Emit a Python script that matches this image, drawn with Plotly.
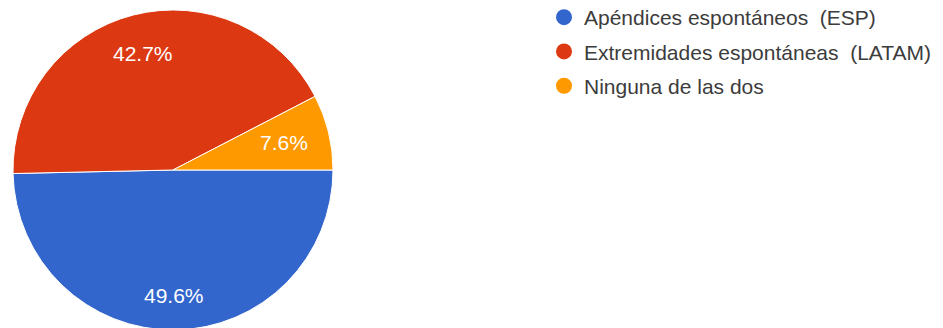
import math
import plotly.graph_objects as go

# Survey answers and their shares (%)
categories = [
    "Apéndices espontáneos\u00a0 (ESP)",
    "Extremidades espontáneas\u00a0 (LATAM)",
    "Ninguna de las dos",
]
shares = [49.6, 42.7, 7.6]
colors = ["#3366CC", "#DC3912", "#FF9900"]

W, H = 943, 334
FONT = "Arial, Liberation Sans, sans-serif"
LABEL_SIZE = 21
START_DEG = 90  # first slice starts at 3 o'clock, going clockwise

# pie placement (pixels): centre and radius
cx, cy, r = 173, 170, 160
dom_x = [(cx - r) / W, (cx + r) / W]
dom_y = [(H - (cy + r)) / H, (H - (cy - r)) / H]

fig = go.Figure()

fig.add_trace(go.Pie(
    labels=categories, values=shares, sort=False, direction="clockwise",
    rotation=START_DEG,
    marker=dict(colors=colors, line=dict(color="white", width=1)),
    textinfo="none", showlegend=False, hoverinfo="label+value",
    domain=dict(x=dom_x, y=dom_y),
))

# Percentage labels: each sits on its slice bisector, pushed outwards until
# the outer corner of its text box reaches 7/8 of the radius.
ADV = {".": 0.278, "%": 0.889}  # Arial advance widths (em); digits 0.556


def text_width(s):
    return sum(ADV.get(ch, 0.556) for ch in s) * LABEL_SIZE


total = sum(shares)
cum = 0.0
reach = 0.875 * r
for v in shares:
    theta = math.radians(START_DEG + 360 * (cum + v / 2) / total)
    cum += v
    label = f"{v:.1f}%"
    a, b = text_width(label) / 2, LABEL_SIZE / 2
    ux, uy = math.sin(theta), -math.cos(theta)
    k = a * abs(ux) + b * abs(uy)
    d = -k + math.sqrt(k * k - (a * a + b * b) + reach * reach)
    px, py = cx + d * ux, cy + d * uy
    fig.add_annotation(
        x=px / W, y=1 - py / H, xref="paper", yref="paper",
        text=label, showarrow=False, xanchor="center", yanchor="middle",
        font=dict(family=FONT, size=LABEL_SIZE, color="white"),
    )

# legend entries with round markers
for name, col in zip(categories, colors):
    fig.add_trace(go.Scatter(
        x=[None], y=[None], mode="markers", name=name, legendgroup=name,
        marker=dict(symbol="circle", size=16, color=col),
    ))

fig.update_layout(
    width=W, height=H,
    margin=dict(l=0, r=0, t=0, b=0, autoexpand=False),
    paper_bgcolor="white", plot_bgcolor="white",
    xaxis=dict(visible=False), yaxis=dict(visible=False),
    legend=dict(
        x=(565 - 21) / W, xanchor="left", y=1 + 3 / H, yanchor="top",
        font=dict(family=FONT, size=21, color="#3c3c3c"),
        tracegroupgap=4, itemsizing="trace",
        bgcolor="rgba(0,0,0,0)",
    ),
)

fig.write_html(
    "out.html",
    post_script=(
        "document.body.style.margin='0';"
        "document.body.style.overflow='hidden';"
        "document.documentElement.style.overflow='hidden';"
    ),
)
